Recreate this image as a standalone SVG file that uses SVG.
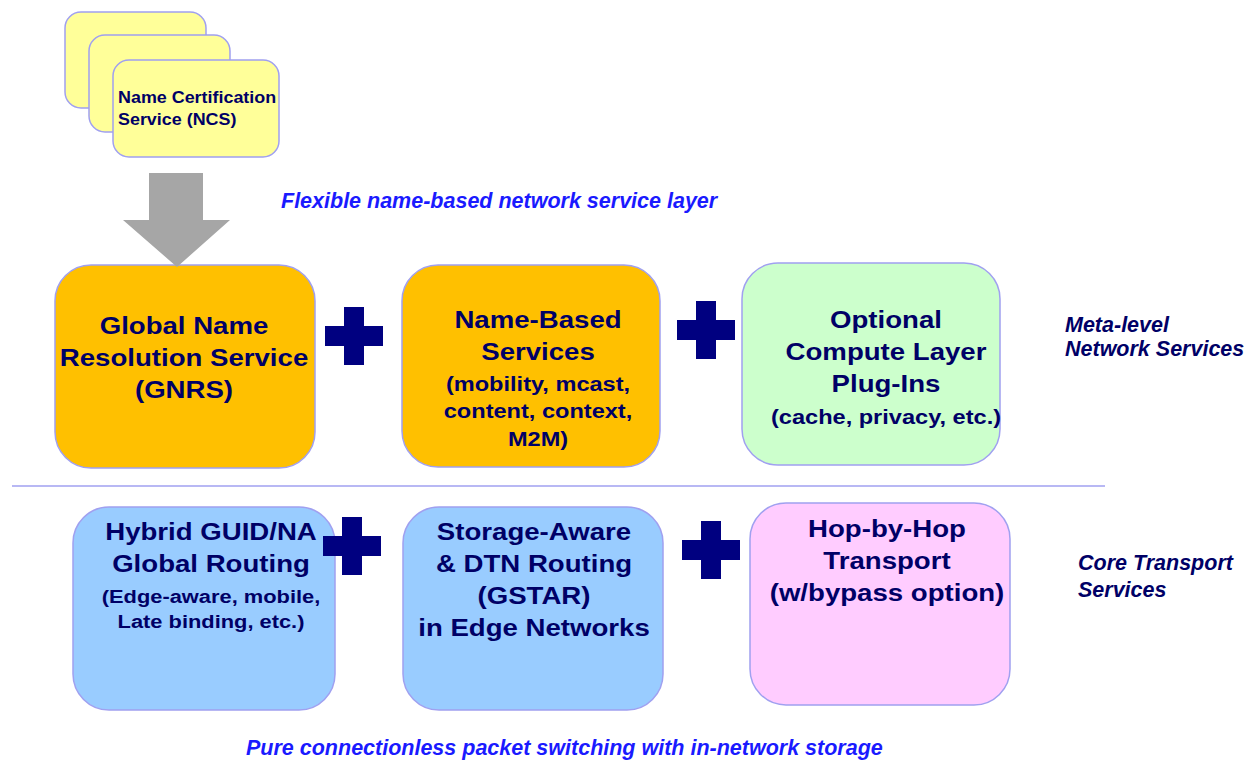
<svg xmlns="http://www.w3.org/2000/svg" width="1256" height="762" viewBox="0 0 1256 762">
  <defs>
    <style>
      .box { stroke: #a0a0f0; stroke-width: 1.5; }
      .ncs { fill: #ffff99; }
      .orange { fill: #ffc000; }
      .green { fill: #ccffcc; }
      .blue { fill: #99ccff; }
      .pink { fill: #ffccff; }
      .t { font-family: "Liberation Sans", Arial, sans-serif; font-weight: bold; fill: #000066; text-anchor: middle; }
      .big { font-size: 24px; }
      .small { font-size: 20.5px; }
      .side { font-family: "Liberation Sans", Arial, sans-serif; font-weight: bold; font-style: italic; font-size: 21.5px; fill: #000066; }
      .layer { font-family: "Liberation Sans", Arial, sans-serif; font-weight: bold; font-style: italic; font-size: 21.5px; fill: #1a1aff; }
      .plus { fill: #000080; }
    </style>
    <path id="plusShape" d="M-10,-29 H10 V-10 H29 V10 H10 V29 H-10 V10 H-29 V-10 H-10 Z"/>
  </defs>
  <rect width="1256" height="762" fill="#ffffff"/>

  <!-- Name Certification Service (stacked cards) -->
  <g id="ncs">
    <rect class="box ncs" x="65" y="12" width="141" height="96" rx="16"/>
    <rect class="box ncs" x="89" y="35" width="141" height="97" rx="16"/>
    <rect class="box ncs" x="113" y="60" width="166" height="97" rx="16"/>
    <g transform="translate(118 0) scale(1.12 1)">
      <text class="t" style="text-anchor:start;font-size:16px" x="0" y="103">Name Certification</text>
      <text class="t" style="text-anchor:start;font-size:16px" x="0" y="125">Service (NCS)</text>
    </g>
  </g>

  <text class="layer" x="281" y="208">Flexible name-based network service layer</text>

  <!-- Meta-level network services -->
  <g id="gnrs">
    <rect class="box orange" x="55" y="265" width="260" height="203" rx="36"/>
    <g transform="translate(184 0) scale(1.15 1)">
      <text class="t big" x="0" y="334">Global Name</text>
      <text class="t big" x="0" y="366">Resolution Service</text>
      <text class="t big" x="0" y="398">(GNRS)</text>
    </g>
  </g>

  <g id="name-based">
    <rect class="box orange" x="402" y="265" width="258" height="202" rx="36"/>
    <g transform="translate(538 0) scale(1.15 1)">
      <text class="t big" x="0" y="328">Name-Based</text>
      <text class="t big" x="0" y="360">Services</text>
      <text class="t small" x="0" y="391">(mobility, mcast,</text>
      <text class="t small" x="0" y="418">content, context,</text>
      <text class="t small" x="0" y="446">M2M)</text>
    </g>
  </g>

  <g id="compute-layer">
    <rect class="box green" x="742" y="263" width="258" height="202" rx="36"/>
    <g transform="translate(886 0) scale(1.15 1)">
      <text class="t big" x="0" y="328">Optional</text>
      <text class="t big" x="0" y="360">Compute Layer</text>
      <text class="t big" x="0" y="392">Plug-Ins</text>
      <text class="t small" x="0" y="424">(cache, privacy, etc.)</text>
    </g>
  </g>

  <g id="meta-label">
    <text class="side" x="1065" y="332">Meta-level</text>
    <text class="side" x="1065" y="356">Network Services</text>
  </g>

  <!-- Core transport services -->
  <g id="hybrid-routing">
    <rect class="box blue" x="73" y="507" width="262" height="203" rx="36"/>
    <g transform="translate(211 0) scale(1.15 1)">
      <text class="t big" x="0" y="540">Hybrid GUID/NA</text>
      <text class="t big" x="0" y="572">Global Routing</text>
      <text class="t" style="font-size:19px" x="0" y="603">(Edge-aware, mobile,</text>
      <text class="t" style="font-size:19px" x="0" y="628">Late binding, etc.)</text>
    </g>
  </g>

  <g id="gstar">
    <rect class="box blue" x="403" y="507" width="260" height="203" rx="36"/>
    <g transform="translate(534 0) scale(1.15 1)">
      <text class="t big" x="0" y="540">Storage-Aware</text>
      <text class="t big" x="0" y="572">&amp; DTN Routing</text>
      <text class="t big" x="0" y="604">(GSTAR)</text>
      <text class="t big" x="0" y="636">in Edge Networks</text>
    </g>
  </g>

  <g id="hop-by-hop">
    <rect class="box pink" x="750" y="503" width="260" height="202" rx="36"/>
    <g transform="translate(887 0) scale(1.15 1)">
      <text class="t big" x="0" y="537">Hop-by-Hop</text>
      <text class="t big" x="0" y="569">Transport</text>
      <text class="t big" x="0" y="601">(w/bypass option)</text>
    </g>
  </g>

  <g id="core-label">
    <text class="side" x="1078" y="570">Core Transport</text>
    <text class="side" x="1078" y="597">Services</text>
  </g>

  <text class="layer" x="246" y="755">Pure connectionless packet switching with in-network storage</text>

  <!-- connectors: certification arrow, plus signs, layer divider -->
  <g id="connectors">
    <path d="M149,173 H203 V220 H230 L177,267 L123,220 H149 Z" fill="#a6a6a6"/>
    <use href="#plusShape" class="plus" x="354" y="336"/>
    <use href="#plusShape" class="plus" x="706" y="330"/>
    <use href="#plusShape" class="plus" x="352" y="546"/>
    <use href="#plusShape" class="plus" x="711" y="550"/>
    <line x1="12" y1="486" x2="1105" y2="486" stroke="#a0a0f0" stroke-width="1.5"/>
  </g>
</svg>
